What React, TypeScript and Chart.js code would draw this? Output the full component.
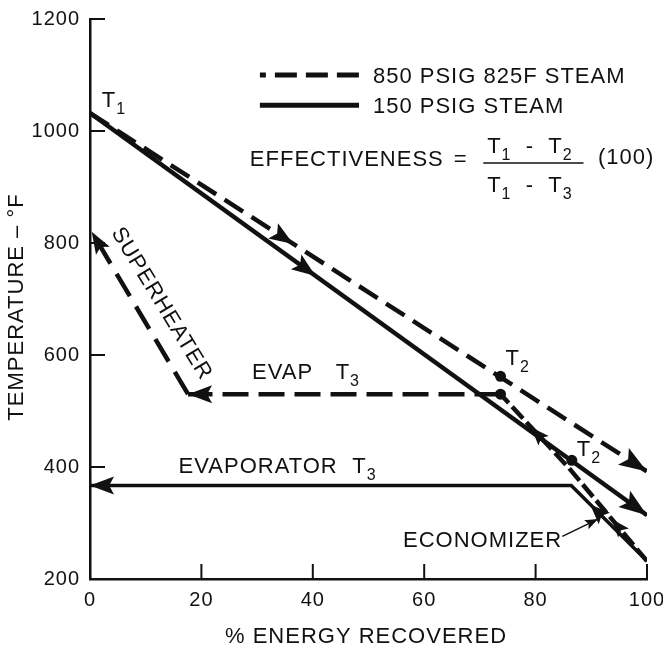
import React, { useEffect, useRef } from "react";
import { Chart, registerables } from "chart.js";

Chart.register(...registerables);

// ---------- data ----------
const xTicks = [0, 20, 40, 60, 80, 100];
const yTicks = [200, 400, 600, 800, 1000, 1200];

// flue-gas lines (T1 -> exit)
const gas850X = [0, 100];
const gas850Y = [1032, 392];
const gas150X = [0, 100];
const gas150Y = [1032, 314];

// water/steam side, 850 PSIG: economizer -> evaporator -> superheater
const water850X = [100, 86, 73.7, 17.6, 0.3];
const water850Y = [232, 398, 530, 530, 820];

// water/steam side, 150 PSIG: economizer -> evaporator
const water150X = [100, 86.4, 0];
const water150Y = [232, 367, 367];

// T2 / pinch points
const dotX = [73.7, 73.7, 86.5];
const dotY = [562, 530, 412];

const INK = "#111111";
const FONT = '"Liberation Sans", Arial, Helvetica, sans-serif';
const TXT = 22;

const toPts = (xs: number[], ys: number[]) => xs.map((x, i) => ({ x, y: ys[i] }));

// arrowheads: dataset index, segment index, fraction along segment
const arrowSpecs = [
  { ds: 0, seg: 0, t: 0.365, len: 24, half: 9 },
  { ds: 0, seg: 0, t: 1, len: 28, half: 10 },
  { ds: 1, seg: 0, t: 0.405, len: 24, half: 9 },
  { ds: 1, seg: 0, t: 1, len: 28, half: 10 },
  { ds: 2, seg: 0, t: 0.45, len: 18, half: 7 },
  { ds: 2, seg: 1, t: 0.55, len: 18, half: 7 },
  { ds: 2, seg: 2, t: 1, len: 24, half: 9 },
  { ds: 2, seg: 3, t: 1, len: 22, half: 8 },
  { ds: 3, seg: 0, t: 0.75, len: 20, half: 8 },
  { ds: 3, seg: 1, t: 1, len: 24, half: 9 },
];

function arrowHead(ctx: CanvasRenderingContext2D, tx: number, ty: number, dx: number, dy: number, len: number, half: number) {
  const L = Math.hypot(dx, dy) || 1;
  const ux = dx / L, uy = dy / L;
  const bx = tx - ux * len, by = ty - uy * len;
  const nx = tx - ux * len * 0.8, ny = ty - uy * len * 0.8;
  ctx.beginPath();
  ctx.moveTo(tx, ty);
  ctx.lineTo(bx - uy * half, by + ux * half);
  ctx.lineTo(nx, ny);
  ctx.lineTo(bx + uy * half, by - ux * half);
  ctx.closePath();
  ctx.fill();
}

type Seg = { t: string; sub?: boolean };

function rich(ctx: CanvasRenderingContext2D, segs: Seg[], left: number, centerY: number, size: number) {
  let x = left;
  const base = centerY + size * 0.358;
  for (const s of segs) {
    if (s.sub) {
      const ss = Math.round(size * 0.74);
      ctx.font = `${ss}px ${FONT}`;
      ctx.fillText(s.t, x, base + size * 0.32);
      x += ctx.measureText(s.t).width;
    } else {
      ctx.font = `${size}px ${FONT}`;
      ctx.fillText(s.t, x, base);
      x += ctx.measureText(s.t).width;
    }
  }
  return x;
}

const annotPlugin = {
  id: "annot",
  beforeDraw(chart: any) {
    const c = chart.ctx as CanvasRenderingContext2D;
    c.save();
    c.fillStyle = "#fff";
    c.fillRect(0, 0, chart.width, chart.height);
    c.restore();
    (c as any).letterSpacing = "1px";
  },
  afterDatasetsDraw(chart: any) {
    const ctx = chart.ctx as CanvasRenderingContext2D;
    const xs = chart.scales.x, ys = chart.scales.y;
    const px = (v: number) => xs.getPixelForValue(v);
    const py = (v: number) => ys.getPixelForValue(v);
    const area = chart.chartArea;
    ctx.save();
    (ctx as any).letterSpacing = "1px";
    ctx.strokeStyle = INK;
    ctx.fillStyle = INK;

    // inside tick marks
    ctx.lineWidth = 2;
    ctx.setLineDash([]);
    xTicks.forEach((v, i) => {
      if (i === 0) return;
      const x = px(v);
      ctx.beginPath();
      ctx.moveTo(x, area.bottom);
      ctx.lineTo(x, area.bottom - 15);
      ctx.stroke();
    });
    yTicks.forEach((v, i) => {
      if (i === 0) return;
      const y = py(v);
      ctx.beginPath();
      ctx.moveTo(area.left, y);
      ctx.lineTo(area.left + 15, y);
      ctx.stroke();
    });

    // arrowheads along the lines
    arrowSpecs.forEach((s) => {
      const pts = chart.getDatasetMeta(s.ds).data;
      const a = pts[s.seg], b = pts[s.seg + 1];
      const tx = a.x + (b.x - a.x) * s.t;
      const ty = a.y + (b.y - a.y) * s.t;
      arrowHead(ctx, tx, ty, b.x - a.x, b.y - a.y, s.len, s.half);
    });

    // legend samples
    ctx.lineWidth = 5;
    ctx.lineCap = "butt";
    ctx.setLineDash([22, 9]);
    ctx.lineDashOffset = 16;
    ctx.beginPath();
    ctx.moveTo(px(30.5), py(1100));
    ctx.lineTo(px(48.3), py(1100));
    ctx.stroke();
    ctx.setLineDash([]);
    ctx.lineDashOffset = 0;
    ctx.beginPath();
    ctx.moveTo(px(30.5), py(1046));
    ctx.lineTo(px(48.3), py(1046));
    ctx.stroke();

    ctx.textAlign = "left";
    ctx.textBaseline = "alphabetic";
    rich(ctx, [{ t: "850 PSIG 825F STEAM" }], px(50.8), py(1100), TXT);
    rich(ctx, [{ t: "150 PSIG STEAM" }], px(50.8), py(1046), TXT);

    // effectiveness formula
    rich(ctx, [{ t: "EFFECTIVENESS" }], px(28.7), py(952), TXT);
    rich(ctx, [{ t: "=" }], px(65.3), py(952), TXT);
    rich(ctx, [{ t: "T" }, { t: "1", sub: true }, { t: "  -  T" }, { t: "2", sub: true }], px(71.3), py(975), TXT);
    rich(ctx, [{ t: "T" }, { t: "1", sub: true }, { t: "  -  T" }, { t: "3", sub: true }], px(71.3), py(905), TXT);
    ctx.lineWidth = 1.5;
    ctx.beginPath();
    ctx.moveTo(px(70.6), py(943));
    ctx.lineTo(px(88.6), py(943));
    ctx.stroke();
    rich(ctx, [{ t: "(100)" }], px(91.2), py(955), TXT);

    // point labels
    rich(ctx, [{ t: "T" }, { t: "1", sub: true }], px(2.1), py(1057), TXT);
    rich(ctx, [{ t: "T" }, { t: "2", sub: true }], px(74.6), py(597), TXT);
    rich(ctx, [{ t: "T" }, { t: "2", sub: true }], px(87.4), py(433), TXT);
    rich(ctx, [{ t: "EVAP" }], px(29.1), py(571), TXT);
    rich(ctx, [{ t: "T" }, { t: "3", sub: true }], px(44.1), py(571), TXT);
    rich(ctx, [{ t: "EVAPORATOR" }], px(15.9), py(404), TXT);
    rich(ctx, [{ t: "T" }, { t: "3", sub: true }], px(47.1), py(404), TXT);
    rich(ctx, [{ t: "ECONOMIZER" }], px(56.2), py(271), TXT);

    // economizer pointer
    ctx.lineWidth = 1.5;
    const ax0 = px(84.8), ay0 = py(276), ax1 = px(91.2), ay1 = py(307);
    ctx.beginPath();
    ctx.moveTo(ax0, ay0);
    ctx.lineTo(ax1, ay1);
    ctx.stroke();
    arrowHead(ctx, ax1, ay1, ax1 - ax0, ay1 - ay0, 13, 5);

    // SUPERHEATER rotated
    ctx.save();
    ctx.translate(px(13.1), py(693));
    ctx.rotate((58.7 * Math.PI) / 180);
    ctx.textAlign = "center";
    ctx.font = `${TXT}px ${FONT}`;
    ctx.fillText("SUPERHEATER", 0, TXT * 0.358);
    ctx.restore();

    // axis titles
    ctx.textAlign = "center";
    ctx.font = `22px ${FONT}`;
    ctx.fillText("% ENERGY RECOVERED", 366, 635 + 22 * 0.358);
    ctx.save();
    ctx.translate(15, 307);
    ctx.rotate(-Math.PI / 2);
    ctx.fillText("TEMPERATURE \u2013 \u00B0F", 0, 22 * 0.358);
    ctx.restore();

    ctx.restore();
  },
};

export default function App() {
  const ref = useRef<HTMLCanvasElement>(null);
  useEffect(() => {
    if (!ref.current) return;
    const lineBase = {
      showLine: true,
      borderColor: INK,
      backgroundColor: INK,
      pointRadius: 0,
      borderCapStyle: "butt" as const,
      tension: 0,
    };
    const chart = new Chart(ref.current, {
      type: "scatter",
      data: {
        datasets: [
          { ...lineBase, label: "850 PSIG 825F STEAM", data: toPts(gas850X, gas850Y), borderWidth: 4.5, borderDash: [22, 10] },
          { ...lineBase, label: "150 PSIG STEAM", data: toPts(gas150X, gas150Y), borderWidth: 4.5 },
          {
            ...lineBase,
            label: "850 PSIG water/steam",
            data: toPts(water850X, water850Y),
            borderWidth: 4.5,
            segment: {
              borderDash: (c: any) => [[16, 5], [16, 5], [26, 10], [26, 12]][c.p0DataIndex] || [22, 10],
            },
          },
          { ...lineBase, label: "150 PSIG water/steam", data: toPts(water150X, water150Y), borderWidth: 3.5 },
          {
            label: "T2",
            data: toPts(dotX, dotY),
            showLine: false,
            pointRadius: 5.5,
            pointBackgroundColor: INK,
            pointBorderWidth: 0,
          },
        ],
      },
      options: {
        responsive: false,
        maintainAspectRatio: false,
        animation: false,
        events: [],
        layout: { padding: { left: 0, right: 16, top: 19, bottom: 0 } },
        plugins: { legend: { display: false }, tooltip: { enabled: false }, title: { display: false } },
        scales: {
          x: {
            type: "linear",
            min: 0,
            max: 100,
            afterFit: (s: any) => {
              s.height = 70;
              s.paddingLeft = 0;
              s.paddingRight = 0;
            },
            afterBuildTicks: (s: any) => {
              s.ticks = xTicks.map((v) => ({ value: v }));
            },
            grid: { display: false, drawTicks: false },
            border: { display: true, color: INK, width: 2.5 },
            ticks: { color: INK, padding: 9, font: { family: FONT, size: 20 }, maxRotation: 0, callback: (v: any) => String(v) },
            title: { display: false },
          },
          y: {
            type: "linear",
            min: 200,
            max: 1200,
            afterFit: (s: any) => {
              s.width = 90;
              s.paddingTop = 0;
              s.paddingBottom = 0;
            },
            afterBuildTicks: (s: any) => {
              s.ticks = yTicks.map((v) => ({ value: v }));
            },
            grid: { display: false, drawTicks: false },
            border: { display: true, color: INK, width: 2.5 },
            ticks: { color: INK, padding: 10, font: { family: FONT, size: 20 }, callback: (v: any) => String(v) },
            title: { display: false },
          },
        },
      },
      plugins: [annotPlugin],
    } as any);
    return () => chart.destroy();
  }, []);
  return (
    <div style={{ position: "absolute", left: 0, top: 0, width: 663, height: 649, background: "#fff" }}>
      <canvas ref={ref} width={663} height={649} style={{ display: "block" }} />
    </div>
  );
}
